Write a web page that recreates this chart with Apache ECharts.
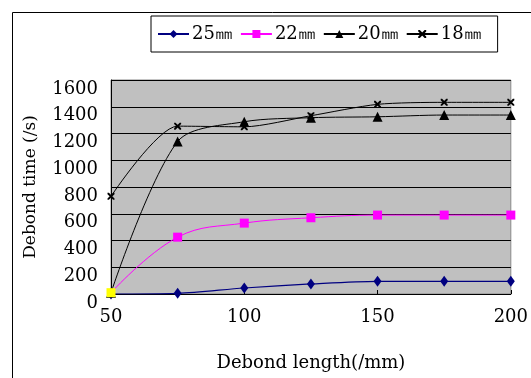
<!DOCTYPE html>
<html><head><meta charset="utf-8">
<script src="https://cdn.jsdelivr.net/npm/echarts@6/dist/echarts.min.js"></script>
<style>html,body{margin:0;padding:0;background:#fff}#c{width:531px;height:378px}</style>
</head><body><div id="c"></div>
<script>
const xValues = [50, 75, 100, 125, 150, 175, 200];
const s25 = [0, 5, 45, 75, 95, 95, 95];
const s22 = [10, 425, 530, 570, 590, 590, 590];
const s20 = [10, 1140, 1288, 1318, 1325, 1338, 1338];
const s18 = [730, 1255, 1250, 1333, 1418, 1433, 1433];
const names = ['25㎜', '22㎜', '20㎜', '18㎜'];
const yTicks = [0, 200, 400, 600, 800, 1000, 1200, 1400, 1600];

const font = '"DejaVu Serif", serif';
const pair = a => a.map((v, i) => [xValues[i], v]);
const xShape = 'path://M0,0L2,0L10,8L10,10L8,10L0,2Z M8,0L10,0L10,2L2,10L0,10L0,8Z';

const chart = echarts.init(document.getElementById('c'));
chart.setOption({
  animation: false,
  backgroundColor: '#fff',
  graphic: [{type:'rect', shape:{x:12.5,y:12.5,width:540,height:400}, style:{fill:'none', stroke:'#000', lineWidth:1}, z:-1}],
  legend: {
    left: 151, top: 16, padding: [9, 16, 9, 6], itemGap: 7, itemWidth: 31, itemHeight: 10,
    borderColor: '#000', borderWidth: 1, backgroundColor: '#fff',
    textStyle: {fontFamily: font, fontSize: 18, color: '#000', padding: [0, 0, 0, -2]},
    data: names
  },
  grid: {left: 111, right: 18, top: 80, bottom: 84, backgroundColor: '#c0c0c0', show: true, borderColor: '#888', borderWidth: 1},
  xAxis: {
    type: 'value', min: 50, max: 200, interval: 50,
    name: 'Debond length(/mm)', nameLocation: 'middle', nameGap: 60,
    nameTextStyle: {fontFamily: font, fontSize: 18, color: '#000'},
    axisLine: {lineStyle: {color: '#000'}},
    axisTick: {inside: true, length: 4, lineStyle: {color: '#000'}},
    axisLabel: {fontFamily: font, fontSize: 18, color: '#000', margin: 14},
    splitLine: {show: false}
  },
  yAxis: {
    type: 'value', min: 0, max: 1600, interval: 200,
    name: 'Debond time (/s)', nameLocation: 'middle', nameGap: 72,
    nameTextStyle: {fontFamily: font, fontSize: 17, color: '#000'},
    axisLine: {show: true, lineStyle: {color: '#000'}},
    axisTick: {show: true, inside: true, length: 3, lineStyle: {color: '#000'}},
    axisLabel: {fontFamily: font, fontSize: 18, color: '#000', margin: 13, verticalAlign: 'top',
      formatter: v => yTicks.includes(v) ? String(v) : ''},
    splitLine: {lineStyle: {color: '#000', width: 1}}
  },
  series: [
    {name: names[0], type: 'line', data: pair(s25), smooth: 0.3, color: '#000080',
      symbol: 'diamond', symbolSize: [8, 11], lineStyle: {width: 1.2}},
    {name: names[1], type: 'line', z: 5, data: pair(s22).map((p, i) => i === 0 ? {value: p, itemStyle: {color: '#ffff00'}} : p),
      smooth: 0.4, color: '#ff00ff', symbol: 'rect', symbolSize: 9, lineStyle: {width: 1}},
    {name: names[2], type: 'line', data: pair(s20), smooth: 0.3, color: '#000',
      symbol: 'triangle', symbolSize: 10, lineStyle: {width: 1}},
    {name: names[3], type: 'line', data: pair(s18), smooth: 0.25, color: '#000',
      symbol: xShape, symbolSize: 7, lineStyle: {width: 1}}
  ]
});
</script></body></html>
